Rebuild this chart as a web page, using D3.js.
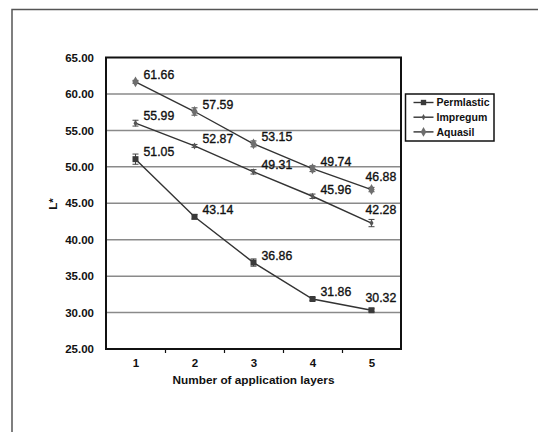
<!DOCTYPE html>
<html><head><meta charset="utf-8">
<script src="https://cdn.jsdelivr.net/npm/d3@7/dist/d3.min.js"></script>
<style>body{margin:0;background:#fff}svg{display:block}</style>
</head><body>
<svg id="c" width="538" height="432"></svg>
<script>
const categories = [1, 2, 3, 4, 5];
const seriesNames = ["Permlastic", "Impregum", "Aquasil"];
const permlastic = [51.05, 43.14, 36.86, 31.86, 30.32];
const impregum = [55.99, 52.87, 49.31, 45.96, 42.28];
const aquasil = [61.66, 57.59, 53.15, 49.74, 46.88];
const permlasticErr = [0.7, 0.3, 0.5, 0.2, 0.2];
const impregumErr = [0.4, 0.2, 0.3, 0.3, 0.5];
const aquasilErr = [0.2, 0.5, 0.4, 0.4, 0.3];
const yTicks = [25, 30, 35, 40, 45, 50, 55, 60, 65];
const xTitle = "Number of application layers";
const yTitle = "L*";

const series = [
  {name: seriesNames[0], values: permlastic, err: permlasticErr, sym: d3.symbolSquare, size: 36, fill: "#3a3a3a"},
  {name: seriesNames[1], values: impregum, err: impregumErr, sym: d3.symbolDiamond, size: 14, fill: "#555"},
  {name: seriesNames[2], values: aquasil, err: aquasilErr, sym: d3.symbolDiamond, size: 34, fill: "#6e6e6e"}
];

const svg = d3.select("#c");
const L = 106, R = 401, T = 57.5, B = 349;
const x = d3.scaleLinear().domain([0.5, 5.5]).range([L, R]);
const y = d3.scaleLinear().domain([25, 65]).range([B, T]);
const font = "'Liberation Sans', Arial, sans-serif";

// outer frame
svg.append("rect").attr("x", 12).attr("y", 9.5).attr("width", 600).attr("height", 600)
  .attr("fill", "none").attr("stroke", "#555").attr("stroke-width", 1.5);

// gridlines
svg.append("g").selectAll("line").data(yTicks.filter(v => v > 25 && v < 65)).join("line")
  .attr("x1", L).attr("x2", R).attr("y1", d => y(d)).attr("y2", d => y(d))
  .attr("stroke", "#8a8a8a").attr("stroke-width", 1.5);

// y axis labels
const yAxis = d3.axisLeft(y).tickValues(yTicks).tickSize(0).tickPadding(12).tickFormat(d3.format(".2f"));
const gy = svg.append("g").attr("transform", `translate(${L},0)`).call(yAxis);
gy.select(".domain").remove();
gy.selectAll("text").attr("font-family", font).attr("font-weight", "bold").attr("font-size", 11.5).attr("fill", "#111");

// x axis ticks (between categories)
const xTickAxis = d3.axisBottom(x).tickValues([1.5, 2.5, 3.5, 4.5]).tickSize(4).tickFormat("");
const gxt = svg.append("g").attr("transform", `translate(0,${B})`).call(xTickAxis);
gxt.select(".domain").remove();
gxt.selectAll("line").attr("stroke", "#111").attr("stroke-width", 1.2);

const xAxis = d3.axisBottom(x).tickValues(categories).tickSize(0).tickPadding(10).tickFormat(d3.format("d"));
const gx = svg.append("g").attr("transform", `translate(0,${B})`).call(xAxis);
gx.select(".domain").remove();
gx.selectAll("text").attr("font-family", font).attr("font-weight", "bold").attr("font-size", 11.5).attr("fill", "#111");

// plot border
svg.append("rect").attr("x", L).attr("y", T).attr("width", R - L).attr("height", B - T)
  .attr("fill", "none").attr("stroke", "#111").attr("stroke-width", 2);

// titles
svg.append("text").attr("x", (L + R) / 2).attr("y", 384).attr("text-anchor", "middle")
  .attr("font-family", font).attr("font-weight", "bold").attr("font-size", 11.8).attr("fill", "#111").text(xTitle);
svg.append("text").attr("transform", `translate(57,204) rotate(-90)`).attr("text-anchor", "middle")
  .attr("font-family", font).attr("font-weight", "bold").attr("font-size", 11.5).attr("fill", "#111").text(yTitle);

// series
const line = d3.line().x((d, i) => x(categories[i])).y(d => y(d));
series.forEach(s => {
  const g = svg.append("g");
  g.append("path").attr("d", line(s.values)).attr("fill", "none").attr("stroke", "#333").attr("stroke-width", 1.4);
  // error bars
  s.values.forEach((v, i) => {
    const cx = x(categories[i]);
    const e = s.err[i];
    g.append("line").attr("x1", cx).attr("x2", cx).attr("y1", y(v - e)).attr("y2", y(v + e)).attr("stroke", "#444").attr("stroke-width", 1);
    [v - e, v + e].forEach(w => g.append("line").attr("x1", cx - 3).attr("x2", cx + 3).attr("y1", y(w)).attr("y2", y(w)).attr("stroke", "#444").attr("stroke-width", 1));
  });
  g.selectAll("path.m").data(s.values).join("path").attr("class", "m")
    .attr("d", d3.symbol().type(s.sym).size(s.size))
    .attr("transform", (d, i) => `translate(${x(categories[i])},${y(d)})`)
    .attr("fill", s.fill);
  // data labels
  g.selectAll("text").data(s.values).join("text")
    .attr("x", (d, i) => i === categories.length - 1 ? x(categories[i]) - 6 : x(categories[i]) + 8)
    .attr("y", (d, i) => i === categories.length - 1 ? y(d) - 13 : y(d) - 7)
    .attr("dy", "0.35em")
    .attr("font-family", font).attr("font-size", 12.3).attr("fill", "#111")
    .attr("stroke", "#111").attr("stroke-width", 0.35)
    .text(d => d.toFixed(2));
});

// legend
const lg = svg.append("g").attr("transform", "translate(405.5,94)");
lg.append("rect").attr("width", 88.5).attr("height", 47).attr("fill", "#fff").attr("stroke", "#111").attr("stroke-width", 1.5);
series.forEach((s, i) => {
  const ly = 8.5 + i * 14.7;
  lg.append("line").attr("x1", 8).attr("x2", 28).attr("y1", ly).attr("y2", ly).attr("stroke", "#333").attr("stroke-width", 1.4);
  lg.append("path").attr("d", d3.symbol().type(s.sym).size(s.size * 0.8)).attr("transform", `translate(18,${ly})`).attr("fill", s.fill);
  lg.append("text").attr("x", 31).attr("y", ly).attr("dy", "0.35em")
    .attr("font-family", font).attr("font-weight", "bold").attr("font-size", 10.5).attr("fill", "#111").text(s.name);
});
</script>
</body></html>
